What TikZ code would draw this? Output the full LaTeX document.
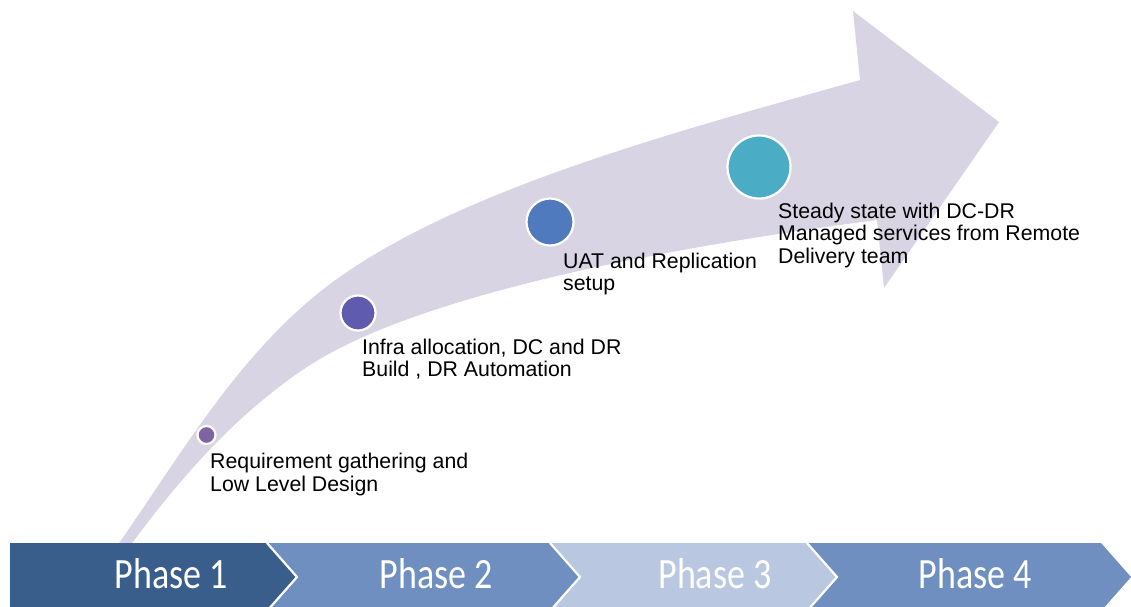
\documentclass[tikz,border=0pt]{standalone}
\usepackage{fontspec}
\setmainfont{Liberation Sans}
\newfontfamily\phasefont{Carlito}
\definecolor{arrowfill}{HTML}{D8D4E4}
\definecolor{phA}{HTML}{3A5E8B}
\definecolor{phB}{HTML}{6F8FC0}
\definecolor{phC}{HTML}{B9C7E0}
\definecolor{cA}{HTML}{8064A2}
\definecolor{cB}{HTML}{5F5BAE}
\definecolor{cC}{HTML}{4F7BBE}
\definecolor{cD}{HTML}{4BACC6}
\tikzset{
  dot/.style={circle, draw=white, line width=2.2pt, inner sep=0pt},
  lbl/.style={anchor=base west, inner sep=0pt, font=\fontsize{21.3}{22.5}\selectfont},
  phaselbl/.style={anchor=base, inner sep=0pt, text=white, font=\phasefont\fontsize{36}{40}\selectfont},
  sep/.style={draw=white, line width=2.2pt}
}
\newcommand{\lines}[1]{\begin{tabular}[t]{@{}l@{}}#1\end{tabular}}
\begin{document}
\begin{tikzpicture}[x=1pt, y=-1pt]
\useasboundingbox (0,0) rectangle (1131,606);
\begin{scope}
\clip (0,0) rectangle (1131,606);
% big curved arrow
\fill[arrowfill] (117,546) .. controls (178,459) and (230,368) .. (310,300)
  .. controls (432,196) and (668,134) .. (860,80)
  -- (853,11) -- (999,122) -- (884,288) -- (877,220)
  .. controls (629,252.5) and (407,301) .. (307,367)
  .. controls (236,414) and (180,478) .. (130,546) -- cycle;
% phase chevrons
\fill[phA] (10,543) -- (267,543) -- (297,577) -- (267,611) -- (10,611) -- cycle;
\fill[phB] (267,543) -- (550,543) -- (580,577) -- (550,611) -- (267,611) -- (297,577) -- cycle;
\fill[phC] (550,543) -- (807,543) -- (837,577) -- (807,611) -- (550,611) -- (580,577) -- cycle;
\fill[phB] (807,543) -- (1101,543) -- (1131,577) -- (1101,611) -- (807,611) -- (837,577) -- cycle;
\draw[sep] (267,543) -- (297,577) -- (267,611);
\draw[sep] (550,543) -- (580,577) -- (550,611);
\draw[sep] (807,543) -- (837,577) -- (807,611);
\end{scope}
% milestones
\node[dot, fill=cA, minimum size=18pt] (m1) at (206.5,435) {};
\node[dot, fill=cB, minimum size=35pt] (m2) at (358,313) {};
\node[dot, fill=cC, minimum size=47pt] (m3) at (550,222) {};
\node[dot, fill=cD, minimum size=63pt] (m4) at (759,167) {};
% labels
\node[lbl] (t1) at (210,468.5) {\lines{Requirement gathering and\\Low Level Design}};
\node[lbl] (t2) at (362,354) {\lines{Infra allocation, DC and DR\\Build , DR Automation}};
\node[lbl] (t3) at (563,268) {\lines{UAT and Replication\\setup}};
\node[lbl] (t4) at (778,218) {\lines{Steady state with DC-DR\\Managed services from Remote\\Delivery team}};
% phase labels
\node[phaselbl] (p1) at (171.5,588.5) {\scalebox{1}[1.2]{Phase 1}};
\node[phaselbl] (p2) at (436.5,588.5) {\scalebox{1}[1.2]{Phase 2}};
\node[phaselbl] (p3) at (715,588.5) {\scalebox{1}[1.2]{Phase 3}};
\node[phaselbl] (p4) at (975.5,588.5) {\scalebox{1}[1.2]{Phase 4}};
\end{tikzpicture}
\end{document}
